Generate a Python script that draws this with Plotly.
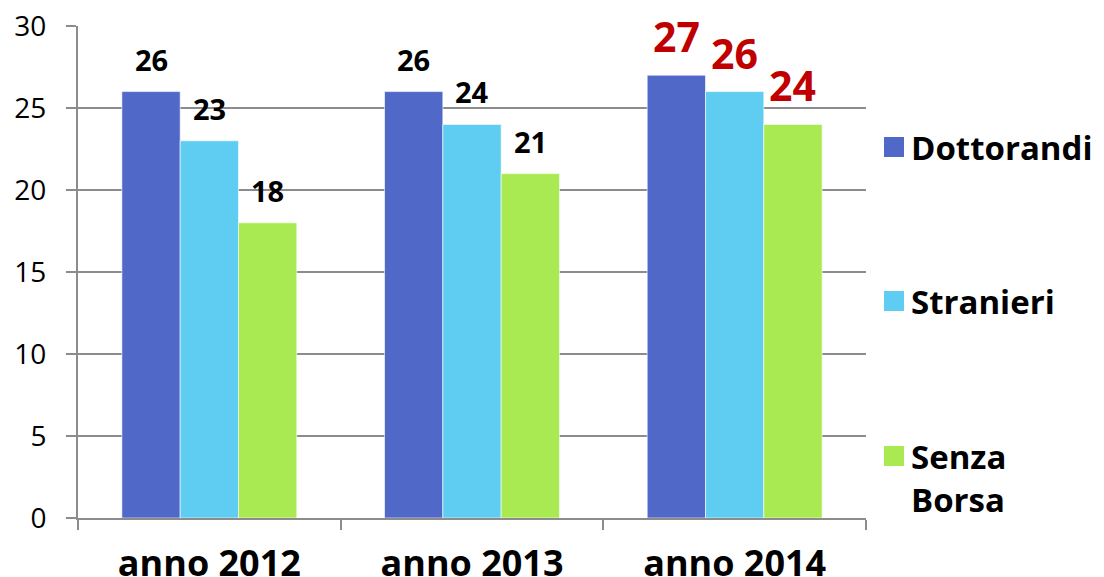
import plotly.graph_objects as go

categories = ["anno 2012", "anno 2013", "anno 2014"]
series_names = ["Dottorandi", "Stranieri", "Senza<br>Borsa"]
dottorandi = [26, 26, 27]
stranieri = [23, 24, 26]
senza_borsa = [18, 21, 24]
y_ticks = [0, 5, 10, 15, 20, 25, 30]

colors = ["#5068C8", "#5FCDF2", "#A9EA52"]
series = [dottorandi, stranieri, senza_borsa]

FONT = "Open Sans"
OFF = 8  # page body margin offset
W, H = 1104 - OFF, 577 - OFF
L, T = 78 - OFF, 26 - OFF
R = W - (866 - OFF)
B = H - (518 - OFF)
pw = W - L - R
ph = H - T - B

fig = go.Figure()
for name, vals, col in zip(series_names, series, colors):
    fig.add_trace(go.Bar(
        x=categories, y=vals, name=name,
        marker=dict(color=col, line=dict(color="rgba(255,255,255,0.6)", width=1)),
        showlegend=False,
    ))

bar_w = pw / 3 * (1 - 0.334) / 3
annotations = []
for i, vals in enumerate(series):
    for j, v in enumerate(vals):
        last = (j == len(categories) - 1)
        annotations.append(dict(
            x=categories[j], y=v, xref="x", yref="y",
            text=str(v), showarrow=False,
            xshift=(i - 1) * bar_w,
            yanchor="bottom", yshift=9 if last else 11,
            font=dict(family=FONT, size=41 if last else 29,
                      color="#C00000" if last else "#000000",
                      weight="bold"),
        ))

# legend built from series names (reference screen coords, converted)
legend_centers = [147, 301, 456]
shapes = []
for name, col, cy in zip(series_names, colors, legend_centers):
    cyf = cy - OFF
    x0 = (884 - OFF - L) / pw
    x1 = (904 - OFF - L) / pw
    y0 = (H - B - (cyf + 10)) / ph
    y1 = (H - B - (cyf - 10)) / ph
    shapes.append(dict(type="rect", xref="paper", yref="paper",
                       x0=x0, x1=x1, y0=y0, y1=y1,
                       fillcolor=col, line=dict(width=0)))
    annotations.append(dict(
        x=(911 - OFF - 2 - L) / pw, y=(H - B - (cyf - 24)) / ph,
        xref="paper", yref="paper",
        text=name, showarrow=False, xanchor="left", yanchor="top", align="left",
        font=dict(family=FONT, size=33, color="#000000", weight="bold"),
    ))

fig.update_layout(
    width=W, height=H,
    margin=dict(l=L, r=R, t=T, b=B, pad=0),
    paper_bgcolor="white", plot_bgcolor="white",
    barmode="group", bargap=0.334, bargroupgap=0,
    annotations=annotations, shapes=shapes,
    xaxis=dict(
        automargin=False, ticklabeloverflow="allow",
        tickson="boundaries", ticks="outside", ticklen=10, tickwidth=2,
        tickcolor="#8C8C8C", showline=True, linecolor="#8C8C8C", linewidth=2,
        showgrid=False,
        tickfont=dict(family=FONT, size=36, color="#000000", weight="bold"),
        ticklabelstandoff=13,
    ),
    yaxis=dict(
        automargin=False, ticklabeloverflow="allow",
        range=[0, 30], tickvals=y_ticks, ticks="outside", ticklen=10, tickwidth=2,
        tickcolor="#8C8C8C", showline=True, linecolor="#8C8C8C", linewidth=2,
        showgrid=True, gridcolor="#8C8C8C", gridwidth=2, zeroline=False,
        tickfont=dict(family=FONT, size=28, color="#000000"),
        ticklabelstandoff=14,
    ),
)

fig.write_html("out.html")
